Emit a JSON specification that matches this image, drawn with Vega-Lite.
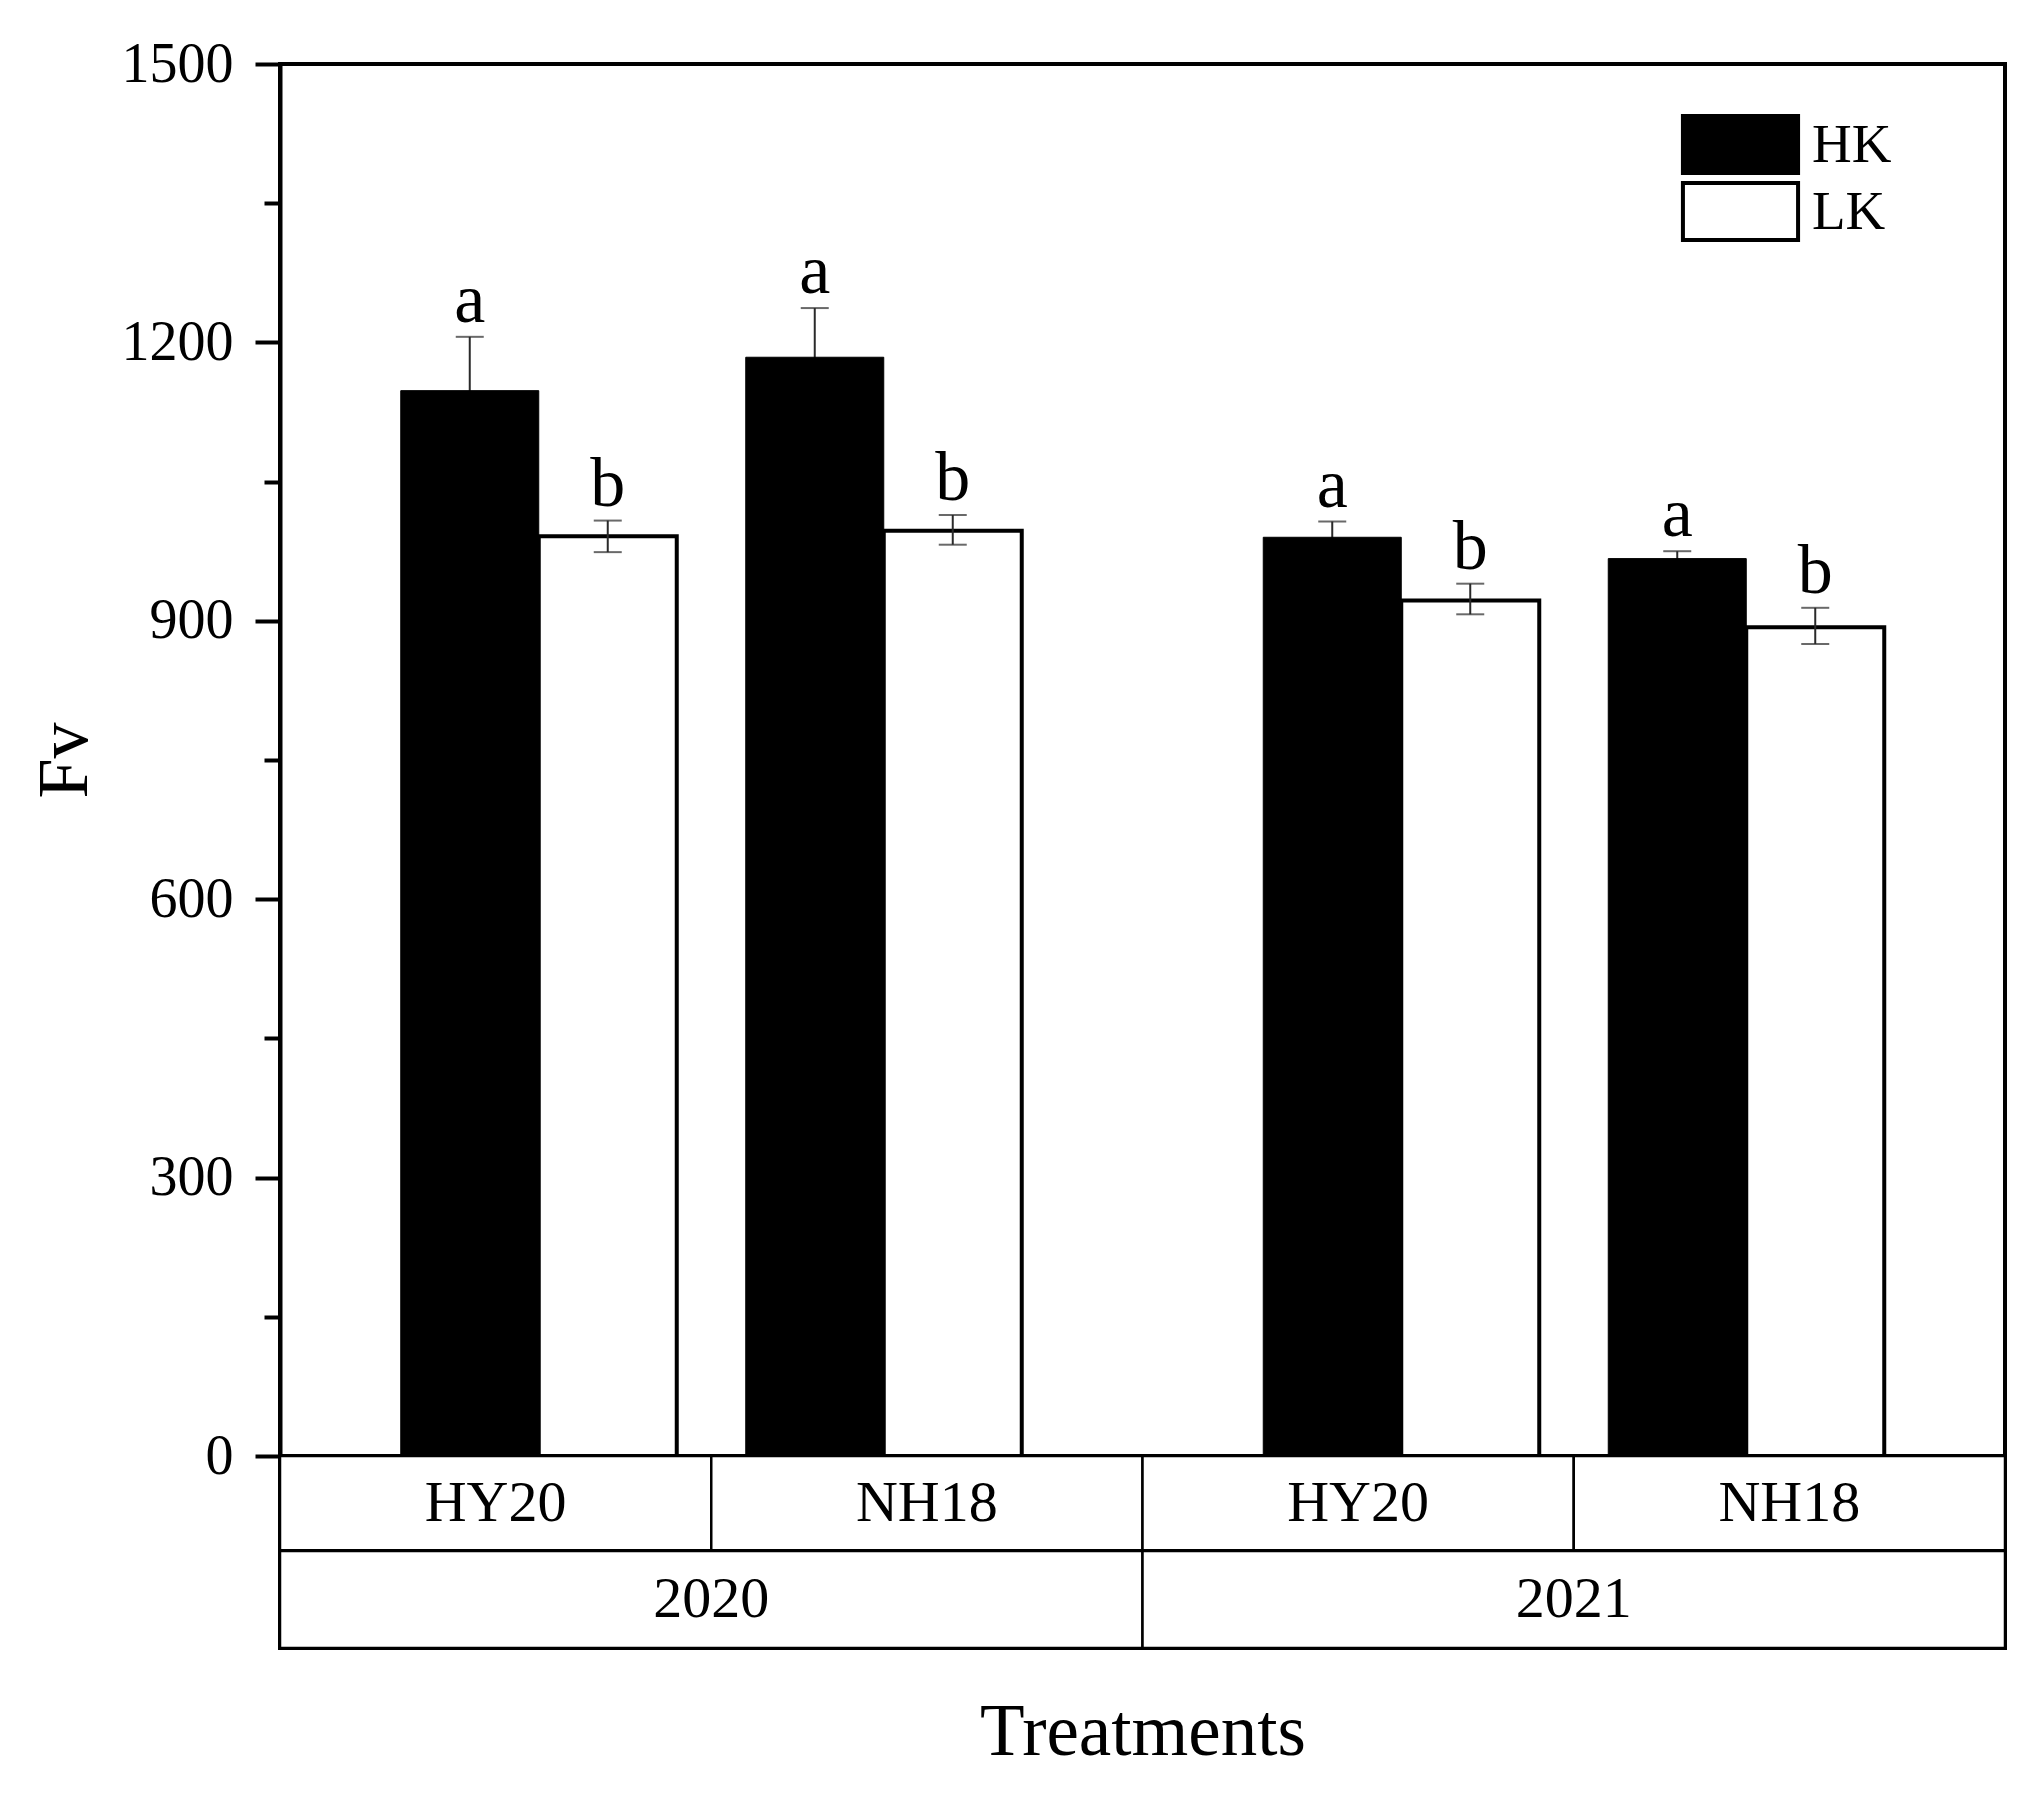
{
  "$schema": "https://vega.github.io/schema/vega-lite/v6.json",
  "background": "white",
  "padding": {"left": 26, "top": 34, "right": 5, "bottom": 5},
  "spacing": 0,
  "bounds": "flush",
  "config": {
    "font": "Liberation Serif",
    "view": {"stroke": "black", "strokeWidth": 4},
    "concat": {"spacing": 0}
  },
  "datasets": {
    "bars": [
      {"year": "2020", "cultivar": "HY20", "series": "HK", "pos": 1, "mean": 1148, "lower": 1090, "upper": 1206, "sig": "a"},
      {"year": "2020", "cultivar": "HY20", "series": "LK", "pos": 1, "mean": 991, "lower": 974, "upper": 1008, "sig": "b"},
      {"year": "2020", "cultivar": "NH18", "series": "HK", "pos": 2, "mean": 1184, "lower": 1131, "upper": 1237, "sig": "a"},
      {"year": "2020", "cultivar": "NH18", "series": "LK", "pos": 2, "mean": 997, "lower": 982, "upper": 1014, "sig": "b"},
      {"year": "2021", "cultivar": "HY20", "series": "HK", "pos": 3.5, "mean": 990, "lower": 973, "upper": 1007, "sig": "a"},
      {"year": "2021", "cultivar": "HY20", "series": "LK", "pos": 3.5, "mean": 922, "lower": 907, "upper": 940, "sig": "b"},
      {"year": "2021", "cultivar": "NH18", "series": "HK", "pos": 4.5, "mean": 967, "lower": 959, "upper": 975, "sig": "a"},
      {"year": "2021", "cultivar": "NH18", "series": "LK", "pos": 4.5, "mean": 893, "lower": 875, "upper": 914, "sig": "b"}
    ],
    "cells": [
      {"treatment": "2020 HY20", "year": "2020", "cultivar": "HY20"},
      {"treatment": "2020 NH18", "year": "2020", "cultivar": "NH18"},
      {"treatment": "2021 HY20", "year": "2021", "cultivar": "HY20"},
      {"treatment": "2021 NH18", "year": "2021", "cultivar": "NH18"}
    ],
    "years": [
      {"year": "2020"},
      {"year": "2021"}
    ]
  },
  "vconcat": [
    {
      "width": 1725,
      "height": 1392,
      "data": {"name": "bars"},
      "transform": [
        {"calculate": "datum.series === 'HK' ? datum.pos - 0.4 : datum.pos", "as": "x0"},
        {"calculate": "datum.series === 'HK' ? datum.pos : datum.pos + 0.4", "as": "x1"},
        {"calculate": "datum.series === 'HK' ? datum.pos - 0.2 : datum.pos + 0.2", "as": "xc"}
      ],
      "layer": [
        {
          "transform": [{"filter": "datum.series === 'HK'"}],
          "mark": {"type": "rule", "color": "#2a2a2a", "strokeWidth": 2},
          "encoding": {
            "x": {"field": "xc", "type": "quantitative", "scale": {"domain": [0.25, 5.25], "nice": false, "zero": false}, "axis": null},
            "y": {"field": "lower", "type": "quantitative", "scale": {"domain": [0, 1500], "nice": false}},
            "y2": {"field": "upper"}
          }
        },
        {
          "transform": [{"filter": "datum.series === 'HK'"}],
          "mark": {"type": "tick", "orient": "horizontal", "size": 28, "thickness": 2, "color": "#2a2a2a"},
          "encoding": {
            "x": {"field": "xc", "type": "quantitative", "axis": null},
            "y": {"field": "upper", "type": "quantitative"}
          }
        },
        {
          "mark": {"type": "bar", "stroke": "black"},
          "encoding": {
            "x": {"field": "x0", "type": "quantitative", "axis": null},
            "x2": {"field": "x1"},
            "y": {
              "field": "mean",
              "type": "quantitative",
              "axis": {
                "values": [0, 150, 300, 450, 600, 750, 900, 1050, 1200, 1350, 1500],
                "labelExpr": "datum.value % 300 === 0 ? datum.label : ''",
                "format": "d",
                "tickSize": {"condition": {"test": "datum.value % 300 === 0", "value": 25}, "value": 16},
                "tickWidth": 4,
                "tickColor": "black",
                "domainWidth": 4,
                "domainColor": "black",
                "grid": false,
                "labelFontSize": 56,
                "labelColor": "black",
                "labelPadding": 22,
                "title": "Fv",
                "titleFontSize": 72,
                "titleFontWeight": "normal",
                "titleColor": "black",
                "titlePadding": 20
              }
            },
            "y2": {"datum": 0},
            "fill": {
              "field": "series",
              "type": "nominal",
              "scale": {"domain": ["HK", "LK"], "range": ["black", "white"]},
              "legend": {
                "orient": "none",
                "legendX": 1430,
                "legendY": 50,
                "title": null,
                "symbolType": "M-2.02,-1H2.02V1H-2.02Z",
                "symbolSize": 3249,
                "symbolStrokeColor": "black",
                "symbolStrokeWidth": 4,
                "labelFontSize": 55,
                "labelColor": "black",
                "labelOffset": 41,
                "rowPadding": -16,
                "padding": 0
              }
            },
            "strokeWidth": {"condition": {"test": "datum.series === 'LK'", "value": 4}, "value": 1}
          }
        },
        {
          "transform": [{"filter": "datum.series === 'LK'"}],
          "mark": {"type": "rule", "color": "#2a2a2a", "strokeWidth": 2},
          "encoding": {
            "x": {"field": "xc", "type": "quantitative", "axis": null},
            "y": {"field": "lower", "type": "quantitative"},
            "y2": {"field": "upper"}
          }
        },
        {
          "transform": [{"filter": "datum.series === 'LK'"}],
          "mark": {"type": "tick", "orient": "horizontal", "size": 28, "thickness": 2, "color": "#2a2a2a"},
          "encoding": {
            "x": {"field": "xc", "type": "quantitative", "axis": null},
            "y": {"field": "upper", "type": "quantitative"}
          }
        },
        {
          "transform": [{"filter": "datum.series === 'LK'"}],
          "mark": {"type": "tick", "orient": "horizontal", "size": 28, "thickness": 2, "color": "#2a2a2a"},
          "encoding": {
            "x": {"field": "xc", "type": "quantitative", "axis": null},
            "y": {"field": "lower", "type": "quantitative"}
          }
        },
        {
          "mark": {"type": "text", "dy": -15, "baseline": "alphabetic", "fontSize": 70, "color": "black"},
          "encoding": {
            "x": {"field": "xc", "type": "quantitative", "axis": null},
            "y": {"field": "upper", "type": "quantitative"},
            "text": {"field": "sig"}
          }
        }
      ]
    },
    {
      "width": 1725,
      "height": 95,
      "data": {"name": "cells"},
      "layer": [
        {
          "mark": {"type": "rect", "fill": "white", "stroke": "black", "strokeWidth": 2.5},
          "encoding": {
            "x": {"field": "treatment", "type": "nominal", "sort": null, "scale": {"paddingInner": 0, "paddingOuter": 0}, "axis": null}
          }
        },
        {
          "mark": {"type": "text", "fontSize": 58, "color": "black", "baseline": "middle"},
          "encoding": {
            "x": {"field": "treatment", "type": "nominal", "sort": null, "axis": null},
            "text": {"field": "cultivar"}
          }
        }
      ]
    },
    {
      "width": 1725,
      "height": 97,
      "data": {"name": "years"},
      "layer": [
        {
          "mark": {"type": "rect", "fill": "white", "stroke": "black", "strokeWidth": 2.5},
          "encoding": {
            "x": {
              "field": "year",
              "type": "nominal",
              "sort": null,
              "scale": {"paddingInner": 0, "paddingOuter": 0},
              "axis": {"labels": false, "ticks": false, "domain": false, "title": "Treatments", "titleFontSize": 73, "titleFontWeight": "normal", "titleColor": "black", "titlePadding": 48}
            }
          }
        },
        {
          "mark": {"type": "text", "fontSize": 58, "color": "black", "baseline": "middle"},
          "encoding": {
            "x": {"field": "year", "type": "nominal", "sort": null},
            "text": {"field": "year"}
          }
        }
      ]
    }
  ]
}
